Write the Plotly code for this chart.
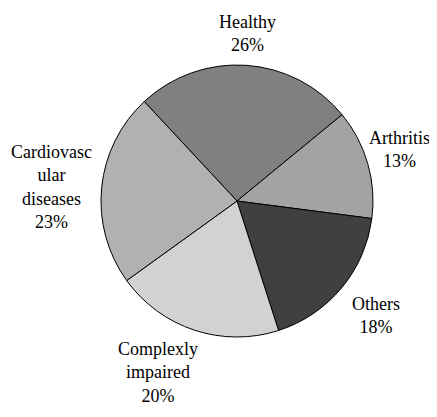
import plotly.graph_objects as go

# data
categories = ["Healthy", "Arthritis", "Others", "Complexly impaired", "Cardiovascular diseases"]
label_text = ["Healthy", "Arthritis", "Others", "Complexly<br>impaired", "Cardiovasc<br>ular<br>diseases"]
shares = [26, 13, 18, 20, 23]
colors = ["#808080", "#a3a3a3", "#404040", "#d2d2d2", "#b1b1b1"]

# label centres in page pixels (x, y from top)
label_pos = [(247, 34), (399, 150), (376, 315), (158, 372), (51, 187)]

OFF = 8  # page body margin pushes the plot down/right
W, H = 437 - 2 * OFF, 417 - 2 * OFF
cx, cy, r = 237 - OFF, 201 - OFF, 136

fig = go.Figure(go.Pie(
    labels=categories, values=shares, sort=False, direction="clockwise",
    rotation=-43, textinfo="none", hoverinfo="label+percent",
    marker=dict(colors=colors, line=dict(color="black", width=1)),
    domain=dict(x=[(cx - r) / W, (cx + r) / W], y=[(H - cy - r) / H, (H - cy + r) / H]),
    showlegend=False,
))

for txt, v, (px, py) in zip(label_text, shares, label_pos):
    fig.add_annotation(text=f"{txt}<br>{v}%", x=(px - OFF) / W, y=1 - (py - OFF) / H,
                       xref="paper", yref="paper", xanchor="center", yanchor="middle",
                       showarrow=False, align="center",
                       font=dict(family="Liberation Serif", size=18, color="black"))

fig.update_layout(width=W, height=H, margin=dict(l=0, r=0, t=0, b=0),
                  paper_bgcolor="white", plot_bgcolor="white")
fig.write_html("out.html")
